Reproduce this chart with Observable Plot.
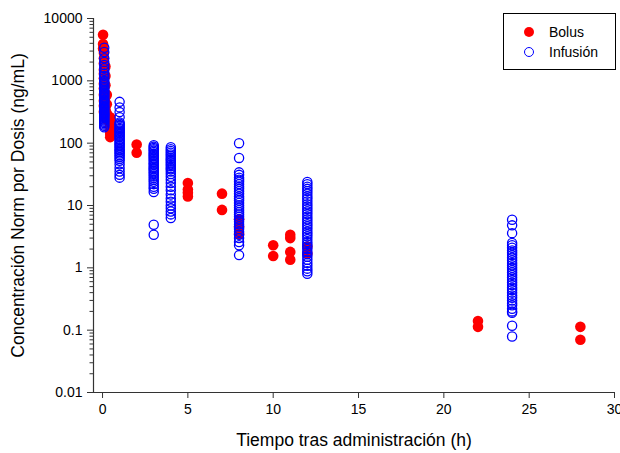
<!DOCTYPE html>
<html>
<head>
<meta charset="utf-8">
<script src="https://cdn.jsdelivr.net/npm/d3@7"></script>
<script src="https://cdn.jsdelivr.net/npm/@observablehq/plot@0.6"></script>
<style>
  body { margin: 0; background: #fff; }
  #wrap { position: relative; width: 620px; height: 453px; font-family: "Liberation Sans", Arial, sans-serif; }
  #legend { position: absolute; left: 503px; top: 13px; width: 111px; height: 55px; border: 1px solid #000; background: #fff; font-size: 14px; }
  .row { position: absolute; left: 20px; display: flex; align-items: center; }
  .sym { width: 10px; height: 10px; border-radius: 50%; box-sizing: border-box; margin-right: 15px; }
</style>
</head>
<body>
<div id="wrap">
  <div id="chart"></div>
  <div id="legend">
    <div class="row" style="top:10px"><div class="sym" style="background:#ff0000"></div><span>Bolus</span></div>
    <div class="row" style="top:30px"><div class="sym" style="border:1.3px solid #0000ff"></div><span>Infusión</span></div>
  </div>
</div>
<script>
// Tick values and labels
const xTicks = [0, 5, 10, 15, 20, 25, 30];
const yTicks = [0.01, 0.1, 1, 10, 100, 1000, 10000];
const yTickLabels = ["0.01", "0.1", "1", "10", "100", "1000", "10000"];
const xLabel = "Tiempo tras administración (h)";
const yLabel = "Concentración Norm por Dosis (ng/mL)";

// Bolus (red filled): sampling times and concentrations at each time
const bolusTimes = [0.03, 0.08, 0.17, 0.25, 0.45, 2, 5, 7, 8, 10, 11, 12, 22, 28];
const bolusConc = [
  [5500, 3900, 3300],
  [2800, 2300, 1900, 1500, 1300, 1100, 900, 750, 600, 480, 400, 320],
  [1700, 1200, 850, 550, 350, 260],
  [600, 420, 300, 240],
  [260, 220, 190, 160, 140, 125],
  [95, 70],
  [23, 18, 16, 14],
  [15.5, 8.5],
  [6, 4.5, 3.5],
  [2.3, 1.55],
  [3.4, 3.0, 1.8, 1.35],
  [2.2, 1.7],
  [0.14, 0.113],
  [0.113, 0.07]
];

// Infusión (blue open): sampling times and concentrations at each time
const infTimes = [0.1, 1, 3, 4, 8, 12, 24];
const infConc = [
  [3400, 2900, 2300, 2000, 1800, 1600, 1450, 1300, 1200, 1100, 1000, 950, 900, 850, 800, 760, 720, 680, 650, 620, 590, 560, 530, 500, 480, 460, 440, 420, 400, 385, 370, 355, 340, 325, 310, 300, 290, 280, 270, 260, 250, 240, 230, 220, 210, 200, 190, 180],
  [460, 375, 315, 260, 215, 205, 195, 185, 175, 168, 160, 152, 145, 138, 131, 125, 118, 112, 106, 100, 95, 90, 85, 80, 76, 72, 68, 64, 60, 56, 52, 46, 40, 35, 31, 28],
  [93, 88, 84, 80, 76, 72, 68, 65, 62, 59, 56, 53, 50, 47, 45, 42, 40, 38, 36, 34, 32, 30, 28, 26, 24, 22, 20, 18.5, 16.5, 4.9, 3.4],
  [86, 80, 75, 70, 66, 62, 58, 55, 52, 49, 46, 43, 40, 38, 35, 32, 29, 26, 23, 20, 17.5, 15, 13, 11.5, 10, 9, 8, 7.2, 6.3],
  [100, 58, 34, 31, 28, 26, 24, 22, 20, 18.5, 17, 15.5, 14, 13, 12, 11, 10, 9.2, 8.5, 7.8, 7.2, 6.6, 6, 5.5, 5, 4.6, 4.2, 3.8, 3.4, 3, 2.6, 2.3, 1.6],
  [23.8, 22, 20, 18.5, 17, 15.5, 14, 12.8, 11.6, 10.5, 9.6, 8.8, 8, 7.3, 6.6, 6, 5.5, 5, 4.6, 4.2, 3.8, 3.5, 3.2, 2.9, 2.6, 2.4, 2.2, 2, 1.8, 1.65, 1.5, 1.35, 1.2, 1.08, 0.97, 0.88, 0.8],
  [5.9, 4.8, 3.6, 2.5, 2.3, 2.1, 1.9, 1.75, 1.6, 1.45, 1.32, 1.2, 1.1, 1.0, 0.92, 0.84, 0.77, 0.7, 0.64, 0.58, 0.53, 0.48, 0.44, 0.4, 0.36, 0.33, 0.3, 0.27, 0.25, 0.22, 0.2, 0.19, 0.118, 0.079]
];

const xDomain = [-0.53, 30];
const yDomain = [0.01, 10000];

const bolus = bolusTimes.flatMap((t, i) => bolusConc[i].map(c => ({t, c})));
const infusion = infTimes.flatMap((t, i) => infConc[i].map(c => ({t, c})));
const yMinor = d3.range(-2, 4).flatMap(e => d3.range(2, 10).map(m => m * Math.pow(10, e)));

const chart = Plot.plot({
  width: 620,
  height: 453,
  marginLeft: 93,
  marginRight: 6,
  marginTop: 18,
  marginBottom: 61,
  style: {fontFamily: "Liberation Sans, Arial, sans-serif", fontSize: "14px", color: "#000", background: "#fff", overflow: "visible"},
  x: {domain: xDomain},
  y: {type: "log", domain: yDomain},
  marks: [
    Plot.dot(bolus, {x: "t", y: "c", r: 5.3, fill: "#ff0000", stroke: "none"}),
    Plot.dot(infusion, {x: "t", y: "c", r: 4.6, fill: "none", stroke: "#0000ff", strokeWidth: 1.3}),
    Plot.ruleX([xDomain[0]], {stroke: "#333", strokeWidth: 1.2}),
    Plot.ruleY([yDomain[0]], {stroke: "#333", strokeWidth: 1.2}),
    Plot.axisX({ticks: xTicks, tickSize: 6, tickPadding: 6, label: null, fontSize: 14, stroke: "#333"}),
    Plot.axisY({ticks: yTicks, tickFormat: (d) => yTickLabels[yTicks.indexOf(d)], tickSize: 6, tickPadding: 5, label: null, fontSize: 14, stroke: "#333"}),
    Plot.axisY({ticks: yMinor, tickSize: 3.5, tickFormat: () => "", label: null, stroke: "#333"}),
    Plot.text([xLabel], {frameAnchor: "bottom", dy: 48, fontSize: 17.5, textAnchor: "middle", lineAnchor: "middle", fill: "#000"}),
    Plot.text([yLabel], {frameAnchor: "left", dx: -75, rotate: -90, fontSize: 17.5, textAnchor: "middle", lineAnchor: "middle", fill: "#000"})
  ]
});
document.getElementById("chart").appendChild(chart);
</script>
</body>
</html>
